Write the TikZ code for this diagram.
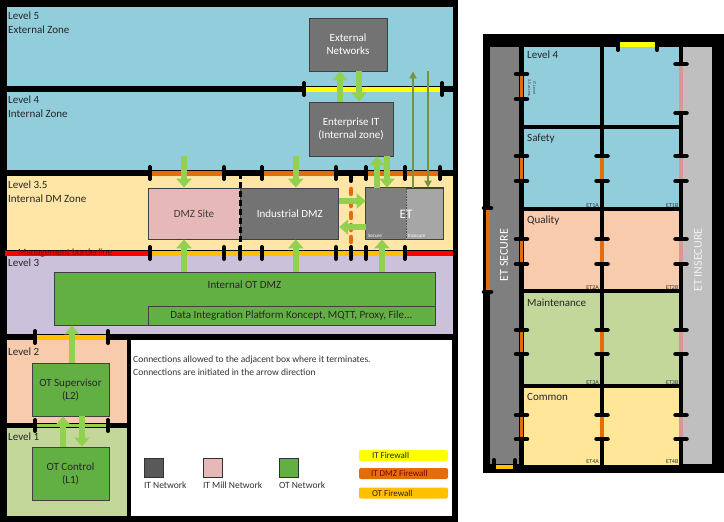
\documentclass[tikz,border=0pt]{standalone}
\usepackage{fontspec}
\setmainfont{Carlito}
\usetikzlibrary{arrows.meta, positioning, calc}
\definecolor{zoneblue}{HTML}{92CDDC}
\definecolor{zonecream}{HTML}{FFE5A6}
\definecolor{zonelav}{HTML}{CCC1DA}
\definecolor{zonepeach}{HTML}{F8CBAD}
\definecolor{zonegreen}{HTML}{C4D79B}
\definecolor{zoneyellow}{HTML}{FFE699}
\definecolor{itgray}{HTML}{737373}
\definecolor{etlight}{HTML}{A6A6A6}
\definecolor{millpink}{HTML}{E6B9B8}
\definecolor{otgreen}{HTML}{62B044}
\definecolor{arrowgreen}{HTML}{92D050}
\definecolor{arrowolive}{HTML}{77933C}
\definecolor{fwyellow}{HTML}{FFFF00}
\definecolor{fworange}{HTML}{E46C0A}
\definecolor{fwgold}{HTML}{FFC000}
\definecolor{fwred}{HTML}{FF0000}
\definecolor{fwpink}{HTML}{DA9694}
\definecolor{mgmtred}{HTML}{800000}
\definecolor{secgray}{HTML}{7F7F7F}
\definecolor{insecgray}{HTML}{BFBFBF}

\begin{document}
\begin{tikzpicture}[x=1pt, y=-1pt,
  every node/.style={inner sep=0pt},
  lvl/.style={anchor=north west, align=left, font=\fontsize{11}{14}\selectfont, text=black!85},
  box/.style={draw=black!75, line width=0.8pt, align=center, font=\fontsize{11}{13}\selectfont},
  itbox/.style={box, fill=itgray, text=white},
  otbox/.style={box, fill=otgreen, text=black!85},
  fw/.style={line width=5pt},
  fwtick/.style={line width=4pt, line cap=round},
  vtick/.style={line width=4.5pt, line cap=round},
  bigarrow/.style={draw=arrowgreen, line width=6pt, -{Triangle[width=15pt,length=9pt]}},
  slimarrow/.style={draw=arrowolive, line width=2.5pt, -{Triangle[width=7pt,length=7pt]}},
  cell/.style={anchor=north west, font=\fontsize{11}{13}\selectfont, text=black!85},
  etlbl/.style={anchor=south east, font=\fontsize{6}{6}\selectfont, text=black!80},
  legendtxt/.style={font=\fontsize{9.5}{12.3}\selectfont, text=black!80},
  fwkey/.style={rounded corners=2pt, minimum width=89pt, minimum height=11pt}
]
\useasboundingbox[fill=white] (0,0) rectangle (724,522);

% left panel: zones
\fill[black] (0,0) rectangle (458,522);
\fill[zoneblue] (7,7) rectangle (453,86);
\fill[zoneblue] (7,92) rectangle (453,170);
\fill[zonecream] (7,176) rectangle (453,250);
\fill[zonelav] (7,256) rectangle (453,334);
\fill[zonepeach] (7,340) rectangle (127,423);
\fill[zonegreen] (7,428) rectangle (127,516);
\fill[white] (131,340) rectangle (452,516);

\node[lvl] (L5) at (8,12) {Level 5\\External Zone};
\node[lvl] (L4) at (8,96) {Level 4\\Internal Zone};
\node[lvl] (L35) at (8,181) {Level 3.5\\Internal DM Zone};
\node[lvl] (L3) at (8,259) {Level 3};
\node[lvl] (L2) at (8,348) {Level 2};
\node[lvl] (L1) at (8,433) {Level 1};

% firewalls between zones
\draw[fw, fwyellow] (304,89) -- (442,89);
\draw[fw, fworange] (150,173) -- (224,173) (262,173) -- (336,173) (366,173) -- (440,173);
\draw[fw, fwred] (5,253) -- (150,253) (405,253) -- (453,253);
\draw[fw, fwgold] (150,253) -- (405,253);
\draw[fw, fwgold] (35,337) -- (108,337);
\draw[line width=2.5pt, arrowgreen] (35,425.5) -- (108,425.5);
\node[anchor=west, font=\fontsize{9.5}{10}\selectfont, text=mgmtred] (mgmt) at (18,253.5) {Management borderline};

% boxes
\node[itbox, minimum width=78pt, minimum height=53pt] (ExtNet) at (348,44.5) {External\\Networks};
\node[itbox, minimum width=84pt, minimum height=54pt] (EntIT) at (351,129) {Enterprise IT\\(Internal zone)};
\node[box, fill=millpink, text=black!75, minimum width=92pt, minimum height=51pt] (DMZSite) at (194,213.5) {DMZ Site};
\node[itbox, minimum width=98pt, minimum height=51pt, right=0pt of DMZSite] (IndDMZ) {Industrial DMZ};
\node[box, fill=etlight, minimum width=77pt, minimum height=51pt] (ET) at (404.5,213.5) {};
\fill[secgray] ([shift={(0.4,0.4)}]ET.north west) rectangle ($(ET.south)+(1.5,-0.4)$);
\draw[black!75, line width=0.8pt] (ET.north west) rectangle (ET.south east);
\draw[black!70, densely dotted, line width=0.6pt] ($(ET.north)+(1.5,0)$) -- ($(ET.south)+(1.5,0)$);
\node[text=white, font=\fontsize{13}{13}\selectfont] (ETname) at (406,214) {ET};
\node[anchor=south west, text=white!85, font=\fontsize{5}{5}\selectfont] (ETsec) at (368,238) {Secure};
\node[anchor=south west, text=white!85, font=\fontsize{5}{5}\selectfont] (ETins) at (408,238) {Insecure};

\node[otbox, minimum width=381pt, minimum height=53pt] (OTDMZ) at (244.5,298.5) {};
\node[anchor=north, font=\fontsize{11}{13}\selectfont, text=black!85, below=9pt of OTDMZ.north] (OTDMZtitle) {Internal OT DMZ};
\node[otbox, minimum width=287pt, minimum height=19pt] (DIP) at (291.5,315.5) {Data Integration Platform Koncept, MQTT, Proxy, File...};
\node[otbox, minimum width=77pt, minimum height=53pt] (OTSup) at (70.5,389.5) {OT Supervisor\\(L2)};
\node[otbox, minimum width=77pt, minimum height=53pt] (OTCtl) at (70.5,473.5) {OT Control\\(L1)};

% ticks on the borders
\foreach \x in {304,442} \draw[fwtick] (\x,83) -- (\x,95);
\foreach \x in {150,224,262,336,366,405,440} \draw[fwtick] (\x,167) -- (\x,179);
\draw[fwtick] (224,173) -- (262,173) (336,173) -- (366,173);
\foreach \x in {150,224,240,262,336,351,366,405} \draw[fwtick] (\x,247) -- (\x,259);
\foreach \x in {35,108} \draw[fwtick] (\x,331) -- (\x,343) (\x,420) -- (\x,431);
\draw[line width=3pt, dash pattern=on 6pt off 3pt] (240,173) -- (240,253);
\draw[fwtick] (351,173) -- (351,181);
\draw[line width=4.5pt, fworange, line cap=round, dash pattern=on 5pt off 7pt] (351,189) -- (351,245);

% connections
\draw[bigarrow] ([xshift=-11pt]EntIT.north) -- ([xshift=-11pt]EntIT.north |- ExtNet.south);
\draw[bigarrow] ([xshift=8pt]EntIT.north |- ExtNet.south) -- ([xshift=8pt]EntIT.north);
\draw[slimarrow] ([xshift=8.5pt]ET.north) -- ([xshift=8.5pt]ET.north |- ExtNet.south);
\draw[slimarrow] ([xshift=23.5pt]ET.north |- ExtNet.south) -- ([xshift=23.5pt]ET.north);
\draw[bigarrow] ([xshift=-10pt]DMZSite.north |- EntIT.south) -- ([xshift=-10pt]DMZSite.north);
\draw[bigarrow] ([xshift=6pt]IndDMZ.north |- EntIT.south) -- ([xshift=6pt]IndDMZ.north);
\draw[bigarrow] ([xshift=-27.5pt]ET.north) -- ([xshift=-27.5pt]ET.north |- EntIT.south);
\draw[bigarrow] ([xshift=-17.5pt]ET.north |- EntIT.south) -- ([xshift=-17.5pt]ET.north);
\draw[bigarrow] ([yshift=12.5pt]IndDMZ.east) -- ([yshift=12.5pt]IndDMZ.east -| ET.west);
\draw[bigarrow] ([yshift=-13.5pt]IndDMZ.east -| ET.west) -- ([yshift=-13.5pt]IndDMZ.east);
\draw[bigarrow] ([xshift=-10pt]DMZSite.south |- OTDMZ.north) -- ([xshift=-10pt]DMZSite.south);
\draw[bigarrow] ([xshift=6pt]IndDMZ.south |- OTDMZ.north) -- ([xshift=6pt]IndDMZ.south);
\draw[bigarrow] ([xshift=-22.5pt]ET.south |- OTDMZ.north) -- ([xshift=-22.5pt]ET.south);
\draw[bigarrow] ([xshift=1.5pt]OTSup.north) -- ([xshift=1.5pt]OTSup.north |- OTDMZ.south);
\draw[bigarrow] ([xshift=-7.5pt]OTCtl.north) -- ([xshift=-7.5pt]OTCtl.north |- OTSup.south);
\draw[bigarrow] ([xshift=11.5pt]OTCtl.north |- OTSup.south) -- ([xshift=11.5pt]OTCtl.north);

% legend
\node[legendtxt, anchor=north west, align=left] (note) at (133,356) {Connections allowed to the adjacent box where it terminates.\\Connections are initiated in the arrow direction};
\node[draw=black!80, fill=black!65, minimum size=19pt] (keyIT) at (153.5,468) {};
\node[draw=black!80, fill=millpink, minimum size=19pt] (keyMill) at (212.5,468) {};
\node[draw=black!80, fill=otgreen, minimum size=19pt] (keyOT) at (288.5,468) {};
\node[legendtxt, anchor=north west] (keyITtxt) at ($(keyIT.south west)+(0,4)$) {IT Network};
\node[legendtxt, anchor=north west] (keyMilltxt) at ($(keyMill.south west)+(0,4)$) {IT Mill Network};
\node[legendtxt, anchor=north west] (keyOTtxt) at ($(keyOT.south west)+(0,4)$) {OT Network};
\node[fwkey, fill=fwyellow] (fwIT) at (403.5,455.5) {};
\node[fwkey, fill=fworange] (fwDMZ) at (403.5,473.5) {};
\node[fwkey, fill=fwgold] (fwOT) at (403.5,493) {};
\node[anchor=west, font=\fontsize{9}{10}\selectfont, text=black!85] (fwITtxt) at ($(fwIT.west)+(13,0)$) {IT Firewall};
\node[anchor=west, font=\fontsize{9}{10}\selectfont, text=mgmtred] (fwDMZtxt) at ($(fwDMZ.west)+(12,0)$) {IT DMZ Firewall};
\node[anchor=west, font=\fontsize{9}{10}\selectfont, text=black!85] (fwOTtxt) at ($(fwOT.west)+(13,0)$) {OT Firewall};

% right panel
\fill[black] (483,34) rectangle (724,473);
\fill[secgray] (490,47) rectangle (519,464);
\fill[insecgray] (683,47) rectangle (712,464);
\fill[zoneblue] (521,47) rectangle (681,209);
\fill[zonepeach] (521,209) rectangle (681,291);
\fill[zonegreen] (521,291) rectangle (681,386);
\fill[zoneyellow] (521,386) rectangle (681,465);
\foreach \x in {521.5,602,681} \draw[line width=4pt] (\x,45) -- (\x,466);
\foreach \y in {127,209,291,386} \draw[line width=4pt] (520,\y) -- (683,\y);
\foreach \a/\b in {74/99,156/181,239/264,330/354,415/439} {
  \draw[line width=3.5pt, fworange] (521.5,\a) -- (521.5,\b);
  \draw[vtick] (516,\a) -- (527,\a) (516,\b) -- (527,\b);
}
\foreach \a/\b in {156/181,239/264,330/354,415/439} {
  \draw[line width=3.5pt, fworange] (602,\a) -- (602,\b);
  \draw[vtick] (596.5,\a) -- (607.5,\a) (596.5,\b) -- (607.5,\b);
}
\foreach \a/\b in {64/113,156/181,239/264,330/354,415/439} {
  \draw[line width=3.5pt, fwpink] (681,\a) -- (681,\b);
  \draw[vtick] (675.5,\a) -- (686.5,\a) (675.5,\b) -- (686.5,\b);
}
\draw[line width=4pt, fworange] (487.5,208) -- (487.5,292);
\draw[vtick] (484,208) -- (491,208) (484,292) -- (491,292);
\draw[line width=5pt, fwyellow] (620,44.5) -- (655,44.5);
\draw[fwtick] (618,45) -- (618,50) (657,45) -- (657,50);
\draw[line width=4pt, fwgold] (496,467) -- (513,467);
\draw[fwtick] (494,460) -- (494,468) (515,460) -- (515,468);

\node[rotate=90, text=white, font=\fontsize{12}{12}\selectfont] (ETsecure) at (504,255) {ET SECURE};
\node[rotate=90, text=white!95!black, font=\fontsize{12}{12}\selectfont] (ETinsecure) at (698,260) {ET INSECURE};
\node[rotate=-90, align=center, text=black!80, font=\fontsize{4}{5}\selectfont] (access) at (532,88) {IT Level\\3.5 access};

\node[cell] (row4) at (527,51) {Level 4};
\node[cell] (rowsafe) at (527,134) {Safety};
\node[cell] (rowqual) at (527,216) {Quality};
\node[cell] (rowmaint) at (527,299) {Maintenance};
\node[cell] (rowcom) at (527,393) {Common};
\foreach \n/\y in {1/207.5,2/289.5,3/384.5,4/463.5} {
  \node[etlbl] at (599,\y) {ET\n A};
  \node[etlbl] at (678.5,\y) {ET\n B};
}
\end{tikzpicture}
\end{document}
